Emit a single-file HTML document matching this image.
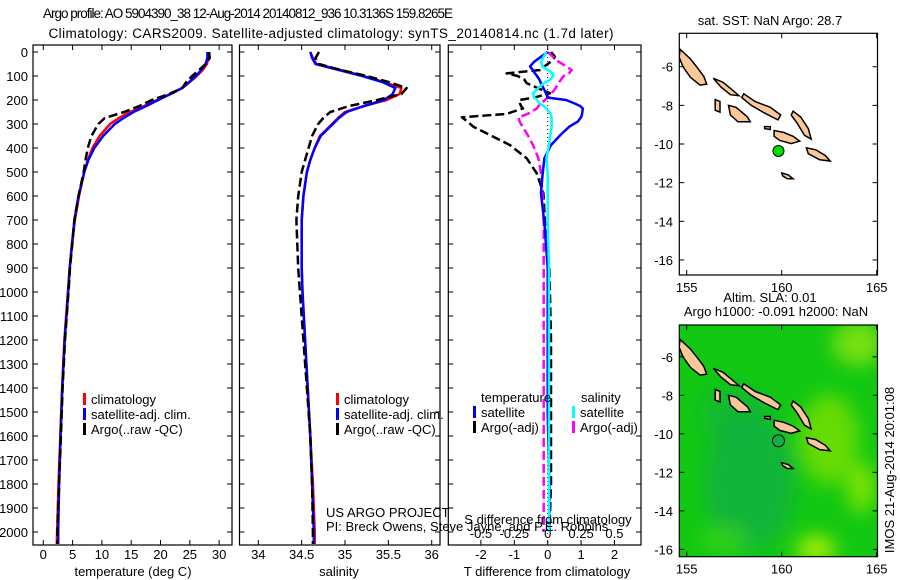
<!DOCTYPE html>
<html><head><meta charset="utf-8"><style>
html,body{margin:0;padding:0;background:#fff;}
svg{display:block;font-family:"Liberation Sans",sans-serif;}
</style></head><body>
<svg id="chart" width="900" height="580" viewBox="0 0 900 580" xmlns="http://www.w3.org/2000/svg">
<defs>
<filter id="blur" x="-50%" y="-50%" width="200%" height="200%"><feGaussianBlur stdDeviation="9"/></filter>
<clipPath id="clipP1"><rect x="33" y="45" width="199" height="500"/></clipPath>
<clipPath id="clipP2"><rect x="239" y="45" width="201" height="500"/></clipPath>
<clipPath id="clipP3"><rect x="448" y="45" width="193" height="500"/></clipPath>
<clipPath id="clipM1"><rect x="679" y="33" width="199" height="242"/></clipPath>
<clipPath id="clipM2"><rect x="679" y="325" width="199" height="232"/></clipPath>
</defs>
<text x="248" y="18" font-size="13.5" text-anchor="middle" textLength="410">Argo profile: AO 5904390_38 12-Aug-2014 20140812_936 10.3136S 159.8265E</text>
<text x="331" y="38" font-size="13.5" text-anchor="middle" textLength="565">Climatology: CARS2009. Satellite-adjusted climatology: synTS_20140814.nc (1.7d later)</text>
<g id="layer"></g>
</svg>
<script>
// ---- profile data (depth in dbar) ----
const depths = [0,25,50,75,100,125,150,175,200,225,250,275,300,350,400,450,500,600,700,800,900,1000,1200,1400,1600,1800,2000,2050];
const tempClim = [28.2,28.2,27.9,27.2,26.2,25.0,23.7,21.7,19.4,17.2,14.8,12.9,11.4,9.6,8.4,7.6,7.0,6.1,5.4,4.9,4.5,4.2,3.6,3.2,2.9,2.6,2.35,2.3];
const tempSat = [28.0,28.0,27.7,27.0,26.0,24.9,23.7,21.7,19.6,17.6,15.4,13.7,12.2,10.2,8.7,7.7,7.0,6.0,5.3,4.9,4.5,4.25,3.65,3.25,2.95,2.7,2.55,2.55];
const tempArgo = [28.3,28.4,27.7,26.6,25.4,24.4,23.7,21.5,18.5,16.4,13.8,10.5,9.4,8.2,7.6,7.2,6.9,6.0,5.3,4.95,4.55,4.3,3.7,3.3,3.0,2.7,2.4,2.4];
const salClim = [34.6,34.63,34.67,34.95,35.21,35.45,35.65,35.63,35.48,35.22,35.0,34.92,34.85,34.71,34.65,34.6,34.56,34.52,34.5,34.5,34.5,34.51,34.54,34.57,34.6,34.63,34.65,34.65];
const salSat = [34.6,34.62,34.66,34.93,35.2,35.43,35.58,35.55,35.45,35.22,35.02,34.93,34.86,34.72,34.65,34.6,34.56,34.52,34.5,34.5,34.5,34.51,34.54,34.57,34.6,34.62,34.64,34.64];
const salArgo = [34.7,34.66,34.7,34.95,35.25,35.5,35.71,35.65,35.37,35.05,34.83,34.75,34.69,34.62,34.58,34.54,34.5,34.46,34.44,34.45,34.46,34.48,34.52,34.56,34.6,34.62,34.63,34.63];
// ---- difference-from-climatology data ----
const diffDepths = [0,20,40,60,75,89,100,115,130,150,172,190,200,214,225,235,258,272,290,311,346,388,443,505,588,713,900,1200,1500,1800,2000];
const dTempSat = [0,-0.2,-0.4,-0.53,-0.45,-0.38,-0.32,-0.25,-0.2,-0.13,-0.05,0,0.55,0.8,0.97,1.05,1.03,1.0,0.9,0.65,0.38,0.1,-0.1,-0.15,-0.2,-0.1,0,0,0,0.05,0.05];
const dTempArgo = [0.1,0.22,0.1,-0.1,-0.23,-1.23,-0.9,-0.7,-0.63,-0.3,0.07,-0.4,-0.85,-0.83,-0.8,-0.74,-1.23,-2.57,-2.4,-2.23,-1.73,-1.13,-0.63,-0.33,-0.13,-0.08,0.05,0.1,0.1,0.1,0.05];
const dSalSat = [-0.01,-0.03,-0.05,-0.04,0,0.04,0.04,0.02,-0.03,-0.07,-0.11,-0.1,-0.08,-0.06,-0.03,-0.01,0.02,0.03,0.03,0.03,0.02,0.01,-0.01,0,0,0,0.01,0.01,0.01,0.01,0.01];
const dSalArgo = [0,0.04,0.08,0.14,0.18,0.16,0.12,0.1,0.08,0.06,0.03,0,-0.02,-0.05,-0.07,-0.08,-0.15,-0.22,-0.21,-0.19,-0.15,-0.11,-0.07,-0.05,-0.04,-0.03,-0.03,-0.03,-0.03,-0.03,-0.03];
// ---- tick labels ----
const depthTicks = [0,100,200,300,400,500,600,700,800,900,1000,1100,1200,1300,1400,1500,1600,1700,1800,1900,2000];
const tempTicks = [0,5,10,15,20,25,30];
const salTicks = [34,34.5,35,35.5,36];
const dTempTicks = [-2,-1,0,1,2];
const dSalTicks = [-0.5,-0.25,0,0.25,0.5];
const dSalTickLabels = ["-0.5","-0.25","0","0.25","0.5"];
const lonTicks = [155,160,165];
const latTicks = [-6,-8,-10,-12,-14,-16];
// ---- map data ----
const argoLon = 159.83, argoLat = -10.36;
const islands = [
 [[154.65,-5.1],[155.2,-5.6],[155.6,-6.1],[155.9,-6.5],[156.05,-6.9],[155.7,-6.95],[155.2,-6.55],[154.8,-6.0],[154.6,-5.5]],
 [[156.4,-6.6],[156.9,-6.8],[157.4,-7.2],[157.75,-7.5],[157.3,-7.45],[156.8,-7.05]],
 [[158.0,-7.4],[158.6,-7.8],[159.4,-8.1],[159.95,-8.5],[159.8,-8.75],[159.1,-8.4],[158.4,-8.0],[157.9,-7.6]],
 [[156.5,-7.7],[156.75,-7.8],[156.75,-8.35],[156.5,-8.25]],
 [[157.2,-8.0],[157.6,-8.1],[158.2,-8.6],[158.35,-8.85],[157.7,-8.85],[157.3,-8.5]],
 [[159.6,-9.3],[160.1,-9.4],[160.6,-9.6],[160.95,-9.85],[160.5,-9.98],[159.9,-9.82],[159.6,-9.6]],
 [[160.6,-8.3],[161.0,-8.6],[161.4,-9.2],[161.55,-9.75],[161.2,-9.55],[160.8,-8.9],[160.5,-8.5]],
 [[161.3,-10.2],[161.8,-10.3],[162.3,-10.6],[162.55,-10.88],[162.0,-10.82],[161.4,-10.5]],
 [[160.0,-11.5],[160.35,-11.6],[160.6,-11.8],[160.3,-11.8],[160.05,-11.65]],
 [[159.1,-9.1],[159.4,-9.1],[159.4,-9.25],[159.1,-9.2]]
];
const mapTitle1 = "sat. SST: NaN Argo: 28.7";
const mapTitle2a = "Altim. SLA: 0.01";
const mapTitle2b = "Argo h1000: -0.091 h2000: NaN";

const NS = "http://www.w3.org/2000/svg";
const layer = document.getElementById('layer');
function mk(tag, attrs, parent){
  const e = document.createElementNS(NS, tag);
  for (const k in attrs) e.setAttribute(k, attrs[k]);
  (parent||layer).appendChild(e);
  return e;
}
function txt(x,y,s,size,anchor,parent){
  const t = mk('text',{x:x,y:y,'font-size':size,'text-anchor':anchor||'middle'},parent);
  t.textContent = s; return t;
}
const top0 = 52, pxPer100 = 24, plotTop = 45, plotBot = 545;
const yD = d => top0 + d/100*pxPer100;
const xT = v => 43.3 + v*5.86;
const xS = v => 258.3 + (v-34)*86.7;
const xDT = v => 547.7 + v*33.4;
const xDS = v => 547.7 + v*133.4;

function panel(name, x0, x1){
  const g = mk('g',{});
  
  
  mk('rect',{x:x0,y:plotTop,width:x1-x0,height:plotBot-plotTop,fill:'none',stroke:'#000','stroke-width':1.2},g);
  depthTicks.forEach(d=>{
    mk('line',{x1:x0,x2:x0+5,y1:yD(d),y2:yD(d),stroke:'#000'},g);
    mk('line',{x1:x1-5,x2:x1,y1:yD(d),y2:yD(d),stroke:'#000'},g);
  });
  return g;
}
function xticks(g, ticks, fx, labels, ly){
  ticks.forEach((t,i)=>{
    const x = fx(t);
    mk('line',{x1:x,x2:x,y1:plotTop,y2:plotTop+5,stroke:'#000'},g);
    mk('line',{x1:x,x2:x,y1:plotBot-5,y2:plotBot,stroke:'#000'},g);
    if (labels){ const l = txt(x,ly,labels[i],13,'middle',g);
      
       }
  });
}
function line(g, xs, ds, fx, color, dashed, name, clip){
  const pts = xs.map((v,i)=>fx(v).toFixed(1)+','+yD(ds[i]).toFixed(1)).join(' ');
  const p = mk('polyline',{points:pts,fill:'none',stroke:color,'stroke-width':2.5,'clip-path':'url(#'+clip+')','stroke-linejoin':'round'},g);
  if (dashed) p.setAttribute('stroke-dasharray','9,4');
  
  
}
function legendEntry(g,x,y,color,label,name){
  const e = mk('g',{},g);
  
  
  mk('rect',{x:x,y:y-6,width:3,height:12,fill:color},e);
  txt(x+8,y+5,label,13,'start',e);
}
const ya = mk('g',{});


depthTicks.forEach(d=>{ txt(28,yD(d)+5,String(d),13,'end',ya); });

const p1 = panel('temperature-panel', 33, 232);
xticks(p1, tempTicks, xT, tempTicks.map(String), 559);
line(p1, tempClim, depths, xT, '#ff0000', false, 'temp-climatology-line','clipP1');
line(p1, tempSat, depths, xT, '#0000ff', false, 'temp-satellite-line','clipP1');
line(p1, tempArgo, depths, xT, '#000000', true, 'temp-argo-line','clipP1');
txt(133,576,'temperature (deg C)',13,'middle',p1);
legendEntry(p1,83,399,'#ff0000','climatology','legend-climatology');
legendEntry(p1,83,414,'#0000ff','satellite-adj. clim.','legend-satellite');
legendEntry(p1,83,429,'#000000','Argo(..raw -QC)','legend-argo');

const p2 = panel('salinity-panel', 239.5, 440);
xticks(p2, salTicks, xS, salTicks.map(String), 559);
line(p2, salClim, depths, xS, '#ff0000', false, 'sal-climatology-line','clipP2');
line(p2, salSat, depths, xS, '#0000ff', false, 'sal-satellite-line','clipP2');
line(p2, salArgo, depths, xS, '#000000', true, 'sal-argo-line','clipP2');
txt(339,576,'salinity',13,'middle',p2);
legendEntry(p2,336,399,'#ff0000','climatology','legend-climatology');
legendEntry(p2,336,414,'#0000ff','satellite-adj. clim.','legend-satellite');
legendEntry(p2,336,429,'#000000','Argo(..raw -QC)','legend-argo');

const p3 = panel('difference-panel', 448.3, 641);
xticks(p3, dTempTicks, xDT, dTempTicks.map(String), 559);
dSalTicks.forEach((t,i)=>{ const l=txt(xDS(t),538,dSalTickLabels[i],13,'middle',p3);
   });
mk('line',{x1:xDT(0),x2:xDT(0),y1:plotTop,y2:plotBot,stroke:'#000','stroke-dasharray':'1,3'},p3);
line(p3, dTempArgo, diffDepths, xDT, '#000000', true, 'dtemp-argo-line','clipP3');
line(p3, dSalArgo, diffDepths, xDS, '#ff00ff', true, 'dsal-argo-line','clipP3');
line(p3, dTempSat, diffDepths, xDT, '#0000ff', false, 'dtemp-satellite-line','clipP3');
line(p3, dSalSat, diffDepths, xDS, '#00ffff', false, 'dsal-satellite-line','clipP3');
txt(481,402,'temperature',13,'start',p3);
txt(581,402,'salinity',13,'start',p3);
legendEntry(p3,473,412,'#0000ff','satellite','legend-temp-satellite');
legendEntry(p3,473,427,'#000000','Argo(-adj)','legend-temp-argo');
legendEntry(p3,572,412,'#00ffff','satellite','legend-sal-satellite');
legendEntry(p3,572,427,'#ff00ff','Argo(-adj)','legend-sal-argo');
txt(548,524,'S difference from climatology',13,'middle',p3);
txt(547,576,'T difference from climatology',13,'middle',p3);
txt(326,517,'US ARGO PROJECT',13,'start');
txt(326,531,'PI: Breck Owens, Steve Jayne, and P.E. Robbins',13,'start');

function mapPanel(name, top, bot, latTop, latBot, green){
  const g = mk('g',{});
  
  
  const x0=679.3, x1=877.5;
  const fx = lon => 686.7 + (lon-155)*19;
  const fy = lat => top + (latTop-lat)/(latTop-latBot)*(bot-top);
  const clip = green ? 'clipM2' : 'clipM1';
  const inner = mk('g',{'clip-path':'url(#'+clip+')'},g);
  if (green){
    mk('rect',{x:x0,y:top,width:x1-x0,height:bot-top,fill:'#12c812'},inner);
    const bl = mk('g',{filter:'url(#blur)'},inner);
    mk('ellipse',{cx:fx(158.3),cy:fy(-12.5),rx:45,ry:70,fill:'#12ad4a',opacity:0.7},bl);
    mk('ellipse',{cx:fx(157.5),cy:fy(-9),rx:35,ry:30,fill:'#14b040',opacity:0.6},bl);
    mk('ellipse',{cx:fx(162.5),cy:fy(-10.3),rx:30,ry:45,fill:'#7ae000',opacity:0.8},bl);
    mk('ellipse',{cx:fx(164.2),cy:fy(-12.8),rx:15,ry:25,fill:'#8ee800',opacity:0.8},bl);
    mk('ellipse',{cx:fx(164),cy:fy(-5.3),rx:25,ry:22,fill:'#90e610',opacity:0.8},bl);
    mk('ellipse',{cx:fx(161.8),cy:fy(-16),rx:20,ry:14,fill:'#b0f000',opacity:0.9},bl);
    mk('ellipse',{cx:fx(157),cy:fy(-15.5),rx:25,ry:15,fill:'#40d810',opacity:0.6},bl);
  }
  islands.forEach(poly=>{
    const pts = poly.map(p=>fx(p[0]).toFixed(1)+','+fy(p[1]).toFixed(1)).join(' ');
    const isl = mk('polygon',{points:pts,fill:'#fbc898',stroke:'#000','stroke-width':1.5},inner);
    
    
  });
  const m = mk('circle',{cx:fx(argoLon),cy:fy(argoLat),r:green?6:5.5,fill:green?'#10b048':'#00e000',stroke:'#000','stroke-width':1},inner);
  
  
  mk('rect',{x:x0,y:top,width:x1-x0,height:bot-top,fill:'none',stroke:'#000','stroke-width':1.2},g);
  lonTicks.forEach(l=>{
    const x=fx(l);
    mk('line',{x1:x,x2:x,y1:top,y2:top+5,stroke:'#000'},g);
    mk('line',{x1:x,x2:x,y1:bot-5,y2:bot,stroke:'#000'},g);
    txt(x,bot+17,String(l),13,'middle',g);
  });
  latTicks.forEach(l=>{
    const y=fy(l);
    mk('line',{x1:x0,x2:x0+5,y1:y,y2:y,stroke:'#000'},g);
    mk('line',{x1:x1-5,x2:x1,y1:y,y2:y,stroke:'#000'},g);
    txt(673,y+5,String(l),13,'end',g);
  });
  return g;
}
const m1 = mapPanel('sst-map', 33.3, 275, -4.27, -16.78, false);
txt(770,25,mapTitle1,13,'middle',m1);
const m2 = mapPanel('sla-map', 325, 556.7, -4.35, -16.38, true);
txt(770,302,mapTitle2a,13,'middle',m2);
txt(776,316,mapTitle2b,13,'middle',m2);
const imos = txt(0,0,'IMOS 21-Aug-2014 20:01:08',13,'middle');
imos.setAttribute('transform','translate(894,470) rotate(-90)');


</script>
</body></html>
